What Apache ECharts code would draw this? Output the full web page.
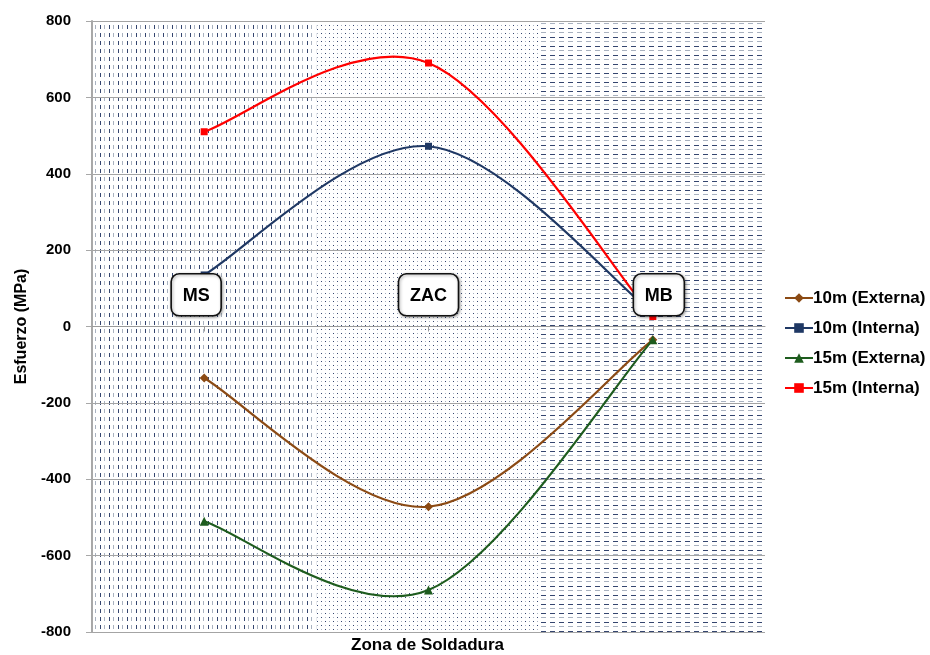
<!DOCTYPE html>
<html>
<head>
<meta charset="utf-8">
<script src="https://cdn.jsdelivr.net/npm/echarts@6/dist/echarts.min.js"></script>
<style>
  html, body { margin: 0; padding: 0; background: #fff; }
  #chart { width: 930px; height: 655px; }
</style>
</head>
<body>
<div id="chart"></div>
<script>
// Weld zones along the horizontal axis
const zones = ['MS', 'ZAC', 'MB'];

// Residual stress (MPa) per zone
const ext10 = [-135, -472, -35];
const int10 = [135, 472, 35];
const ext15 = [-510, -690, -35];
const int15 = [510, 690, 26];

const seriesNames = ['10m (Externa)', '10m (Interna)', '15m (Externa)', '15m (Interna)'];
const seriesColors = ['#8B4A14', '#1F3864', '#1E5C1E', '#FF0000'];
const seriesSymbols = ['diamond', 'rect', 'triangle', 'rect'];
const seriesSizes = [9, 7, 9, 7];

// Height at which the zone tags sit
const tagLevel = 83;

const FONT = '"Liberation Sans", Arial, sans-serif';
const DARK = '#34456f';
const GREY = '#a9b2c0';

function tile(w, h, draw) {
  const c = document.createElement('canvas');
  c.width = w; c.height = h;
  const g = c.getContext('2d');
  g.fillStyle = '#fff';
  g.fillRect(0, 0, w, h);
  draw(g);
  return { image: c, repeat: 'repeat' };
}

// Vertical dashes (MS)
const patMS = tile(9, 8, g => {
  g.fillStyle = DARK; g.fillRect(1, 1, 1, 4);
  g.fillStyle = GREY; g.fillRect(5, 1, 1, 4);
});
// Fine dots (ZAC)
const patZAC = tile(8, 8, g => {
  g.fillStyle = DARK; g.fillRect(1, 1, 1, 1); g.fillRect(5, 5, 1, 1);
  g.fillStyle = GREY; g.fillRect(5, 1, 1, 1); g.fillRect(1, 5, 1, 1);
});
// Horizontal dashes (MB)
const patMB = tile(9, 9, g => {
  g.fillStyle = DARK; g.fillRect(1, 1, 5, 1);
  g.fillStyle = GREY; g.fillRect(1, 5, 5, 1);
});
const zonePatterns = [patMS, patZAC, patMB];

const chart = echarts.init(document.getElementById('chart'), null, { renderer: 'canvas' });
const values = [ext10, int10, ext15, int15];

// Smoothed curve through the points of one series (cardinal spline as cubic Beziers)
function curveSeries(i) {
  const vals = values[i];
  return {
    type: 'custom',
    xAxisIndex: 0,
    yAxisIndex: 0,
    silent: true,
    z: 2,
    data: vals.map((v, k) => [k, v]),
    renderItem: function (params, api) {
      if (params.dataIndex !== 0) return null;
      const p = vals.map((v, k) => api.coord([k, v]));
      const n = p.length;
      const children = [];
      for (let k = 0; k < n - 1; k++) {
        const p0 = p[Math.max(k - 1, 0)];
        const p1 = p[k];
        const p2 = p[k + 1];
        const p3 = p[Math.min(k + 2, n - 1)];
        children.push({
          type: 'bezierCurve',
          shape: {
            x1: p1[0], y1: p1[1],
            cpx1: p1[0] + (p2[0] - p0[0]) / 6, cpy1: p1[1] + (p2[1] - p0[1]) / 6,
            cpx2: p2[0] - (p3[0] - p1[0]) / 6, cpy2: p2[1] - (p3[1] - p1[1]) / 6,
            x2: p2[0], y2: p2[1]
          },
          style: { stroke: seriesColors[i], lineWidth: 2.2, fill: null }
        });
      }
      return { type: 'group', children: children };
    }
  };
}

const markerSeries = seriesNames.map((name, i) => ({
  name: name,
  type: 'line',
  xAxisIndex: 0,
  yAxisIndex: 0,
  data: values[i],
  symbol: seriesSymbols[i],
  symbolSize: seriesSizes[i],
  showAllSymbol: true,
  lineStyle: { color: seriesColors[i], width: 2, opacity: 0 },
  itemStyle: { color: seriesColors[i] },
  z: 3
}));

const measureCtx = document.createElement('canvas').getContext('2d');
measureCtx.font = 'bold 18px ' + FONT;
const tagShift = [-8, 0, 6];

const option = {
  animation: false,
  backgroundColor: '#fff',
  grid: { left: 92, right: 165, top: 21, bottom: 23 },
  legend: {
    data: seriesNames,
    orient: 'vertical',
    left: 779,
    top: 283,
    itemWidth: 28,
    itemHeight: 12,
    itemGap: 10,
    lineStyle: { opacity: 1, width: 2 },
    textStyle: { fontFamily: FONT, fontWeight: 'bold', fontSize: 17, color: '#000', lineHeight: 20, padding: [0, 0, 0, -5] }
  },
  xAxis: [
    {
      type: 'category',
      data: zones,
      boundaryGap: true,
      axisLine: { onZero: true, lineStyle: { color: '#9a9a9a', width: 1 } },
      axisTick: { show: true, alignWithLabel: true, length: 5, lineStyle: { color: '#9a9a9a' } },
      axisLabel: { show: false },
      splitLine: { show: false }
    },
    {
      type: 'value',
      min: 0,
      max: 3,
      show: false
    }
  ],
  yAxis: {
    type: 'value',
    min: -800,
    max: 800,
    interval: 200,
    name: 'Esfuerzo (MPa)',
    nameLocation: 'middle',
    nameGap: 56,
    nameRotate: 90,
    nameTextStyle: { fontFamily: FONT, fontWeight: 'bold', fontSize: 16, color: '#000' },
    axisLine: { show: true, lineStyle: { color: '#a8a8a8', width: 2 } },
    axisTick: { show: true, length: 6, inside: false, lineStyle: { color: '#a8a8a8' } },
    axisLabel: { fontFamily: FONT, fontWeight: 'bold', fontSize: 15, color: '#000', margin: 21 },
    splitLine: { show: true, lineStyle: { color: '#a4a4a4', width: 1 } }
  },
  graphic: [{
    type: 'text',
    left: 427 - 76,
    top: 637,
    style: { text: 'Zona de Soldadura', font: 'bold 17px ' + FONT, fill: '#000' }
  }],
  series: [
    {
      type: 'custom',
      xAxisIndex: 1,
      yAxisIndex: 0,
      silent: true,
      z: -1,
      data: [[0, 1], [1, 2], [2, 3]],
      renderItem: function (params, api) {
        const a = api.coord([api.value(0), 800]);
        const b = api.coord([api.value(1), -800]);
        return {
          type: 'rect',
          shape: { x: a[0], y: a[1], width: b[0] - a[0], height: b[1] - a[1] },
          style: { fill: zonePatterns[params.dataIndex] }
        };
      }
    },
    ...values.map((v, i) => curveSeries(i)),
    ...markerSeries,
    {
      type: 'custom',
      xAxisIndex: 0,
      yAxisIndex: 0,
      silent: true,
      z: 10,
      data: zones.map((z, k) => [k, tagLevel]),
      renderItem: function (params, api) {
        const k = params.dataIndex;
        const c = api.coord([api.value(0), api.value(1)]);
        const text = zones[k];
        const w = Math.round(measureCtx.measureText(text).width) + 23;
        const h = 42;
        const cx = c[0] + tagShift[k];
        const cy = c[1];
        return {
          type: 'group',
          children: [
            {
              type: 'rect',
              shape: { x: cx - w / 2, y: cy - h / 2, width: w, height: h, r: 8 },
              style: {
                fill: '#fff', stroke: '#111', lineWidth: 1.6,
                shadowBlur: 3, shadowColor: 'rgba(0,0,0,0.35)', shadowOffsetX: 1, shadowOffsetY: 1
              }
            },
            {
              type: 'text',
              style: {
                text: text, x: cx, y: cy + 1,
                align: 'center', verticalAlign: 'middle',
                textAlign: 'center', textVerticalAlign: 'middle',
                font: 'bold 18px ' + FONT, fill: '#000'
              }
            }
          ]
        };
      }
    }
  ]
};

chart.setOption(option);
</script>
</body>
</html>
